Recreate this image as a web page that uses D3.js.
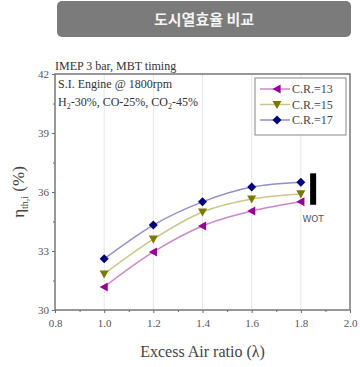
<!DOCTYPE html>
<html>
<head>
<meta charset="utf-8">
<script src="https://cdn.jsdelivr.net/npm/d3@7"></script>
<style>
  body { margin: 0; background: #fff; }
  svg { display: block; }
  .tick text { font-family: "Liberation Serif", "Times New Roman", serif; }
</style>
</head>
<body>
<div id="chart"></div>
<script>
const lambdas = [1.0, 1.2, 1.4, 1.6, 1.8];
const cr13 = [31.17, 32.95, 34.27, 35.03, 35.5];
const cr15 = [31.83, 33.6, 34.98, 35.64, 35.9];
const cr17 = [32.6, 34.32, 35.5, 36.25, 36.5];
const seriesNames = ['C.R.=13', 'C.R.=15', 'C.R.=17'];
const xTicks = [0.8, 1.0, 1.2, 1.4, 1.6, 1.8, 2.0];
const yTicks = [30, 33, 36, 39, 42];
const wotRange = [35.35, 36.95];

const width = 360, height = 367;
const margin = { top: 74, right: 10, bottom: 57, left: 55 };
const serif = '"Liberation Serif", "Times New Roman", serif';

const svg = d3.select('#chart').append('svg')
  .attr('width', width)
  .attr('height', height);

// title banner
svg.append('rect')
  .attr('x', 57).attr('y', 1)
  .attr('width', 294).attr('height', 36)
  .attr('rx', 5)
  .attr('fill', '#7b7b7b');
svg.append('text')
  .attr('x', 204).attr('y', 25)
  .attr('text-anchor', 'middle')
  .attr('fill', '#f4f4f4')
  .style('font-family', '"Noto Sans CJK KR", sans-serif')
  .style('font-size', '15px')
  .style('font-weight', 'bold')
  .text('도시열효율 비교');

const x = d3.scaleLinear().domain([0.8, 2.0]).range([margin.left, width - margin.right]);
const y = d3.scaleLinear().domain([30, 42]).range([height - margin.bottom, margin.top]);

// vertical grid
svg.append('g')
  .selectAll('line')
  .data(lambdas)
  .enter().append('line')
  .attr('x1', d => x(d)).attr('x2', d => x(d))
  .attr('y1', y(30)).attr('y2', y(42))
  .attr('stroke', '#e6e6e6')
  .attr('stroke-width', 1);

// axes
const xAxis = svg.append('g')
  .attr('transform', `translate(0,${y(30)})`)
  .call(d3.axisBottom(x).tickValues(xTicks).tickFormat(d3.format('.1f')).tickSize(3).tickPadding(6));
const xMinor = svg.append('g')
  .attr('transform', `translate(0,${y(30)})`)
  .call(d3.axisBottom(x).tickValues(d3.range(0.9, 2.0, 0.2)).tickFormat('').tickSize(2));
const yAxis = svg.append('g')
  .attr('transform', `translate(${margin.left},0)`)
  .call(d3.axisLeft(y).tickValues(yTicks).tickSize(3).tickPadding(3));
const yMinor = svg.append('g')
  .attr('transform', `translate(${margin.left},0)`)
  .call(d3.axisLeft(y).tickValues([31.5, 34.5, 37.5, 40.5]).tickFormat('').tickSize(2));

[xAxis, xMinor, yAxis, yMinor].forEach(g => {
  g.attr('font-family', serif).attr('font-size', 11);
  g.select('.domain').remove();
  g.selectAll('line').attr('stroke', '#666');
  g.selectAll('text').attr('fill', '#555');
});

// frame
svg.append('rect')
  .attr('x', x(0.8)).attr('y', y(42))
  .attr('width', x(2.0) - x(0.8))
  .attr('height', y(30) - y(42))
  .attr('fill', 'none')
  .attr('stroke', '#777')
  .attr('stroke-width', 1.5);

// axis titles
const yLabel = svg.append('text')
  .attr('transform', `translate(24,${(y(30) + y(42)) / 2}) rotate(-90)`)
  .attr('text-anchor', 'middle')
  .attr('fill', '#444')
  .style('font-family', serif)
  .style('font-size', '17px');
yLabel.append('tspan').text('η');
yLabel.append('tspan').attr('dy', 4).style('font-size', '10px').text('th,i');
yLabel.append('tspan').attr('dy', -4).text(' (%)');

svg.append('text')
  .attr('x', x(1.4)).attr('y', 357)
  .attr('text-anchor', 'middle')
  .attr('fill', '#444')
  .style('font-family', serif)
  .style('font-size', '16px')
  .text('Excess Air ratio (λ)');

// annotations
const note = (tx, ty, parts) => {
  const t = svg.append('text')
    .attr('x', tx).attr('y', ty)
    .attr('fill', '#333')
    .style('font-family', serif)
    .style('font-size', '12px');
  parts.forEach(p => {
    const s = t.append('tspan').text(p[0]);
    if (p[1]) s.attr('dy', p[1]).style('font-size', '8px');
    if (p[2]) s.attr('dy', p[2]);
  });
};
note(55, 70, [['IMEP 3 bar, MBT timing']]);
note(58, 88, [['S.I. Engine @ 1800rpm']]);
note(58, 106, [['H'], ['2', 3], ['-30%, CO-25%, CO', 0, -3], ['2', 3], ['-45%', 0, -3]]);

// series
const series = [
  { name: seriesNames[0], values: cr13, line: '#cc88cc', mark: '#990099', shape: 'left' },
  { name: seriesNames[1], values: cr15, line: '#c8c888', mark: '#7a7a00', shape: 'down' },
  { name: seriesNames[2], values: cr17, line: '#9090cc', mark: '#000080', shape: 'diamond' }
];

const markerPath = (shape, r) => {
  if (shape === 'left') return `M${-r},0L${r * 0.8},${-r}L${r * 0.8},${r}Z`;
  if (shape === 'down') return `M${-r},${-r * 0.8}L${r},${-r * 0.8}L0,${r}Z`;
  return `M0,${-r}L${r},0L0,${r}L${-r},0Z`;
};

const lineGen = d3.line()
  .x((d, i) => x(lambdas[i]))
  .y(d => y(d))
  .curve(d3.curveMonotoneX);

series.forEach(s => {
  svg.append('path')
    .datum(s.values)
    .attr('fill', 'none')
    .attr('stroke', s.line)
    .attr('stroke-width', 1.5)
    .attr('d', lineGen);
  svg.selectAll(null)
    .data(s.values)
    .enter().append('path')
    .attr('transform', (d, i) => `translate(${x(lambdas[i])},${y(d)})`)
    .attr('d', markerPath(s.shape, 4.5))
    .attr('fill', s.mark);
});

// WOT marker
svg.append('rect')
  .attr('x', x(1.85) - 3).attr('y', y(wotRange[1]))
  .attr('width', 6)
  .attr('height', y(wotRange[0]) - y(wotRange[1]))
  .attr('fill', '#000');
svg.append('text')
  .attr('x', x(1.85)).attr('y', 222)
  .attr('text-anchor', 'middle')
  .attr('fill', '#555')
  .style('font-family', '"DejaVu Sans", sans-serif')
  .style('font-size', '9px')
  .text('WOT');

// legend
const legend = svg.append('g').attr('transform', 'translate(255,78)');
legend.append('rect')
  .attr('width', 91).attr('height', 57)
  .attr('fill', '#fff')
  .attr('stroke', '#888')
  .attr('stroke-width', 1);
series.forEach((s, i) => {
  const ly = 11 + i * 15.5;
  legend.append('line')
    .attr('x1', 5).attr('x2', 35)
    .attr('y1', ly).attr('y2', ly)
    .attr('stroke', s.line)
    .attr('stroke-width', 1.5);
  legend.append('path')
    .attr('transform', `translate(22,${ly})`)
    .attr('d', markerPath(s.shape, 4.5))
    .attr('fill', s.mark);
  legend.append('text')
    .attr('x', 37).attr('y', ly + 4)
    .attr('fill', '#444')
    .style('font-family', serif)
    .style('font-size', '12px')
    .text(s.name);
});
</script>
</body>
</html>
